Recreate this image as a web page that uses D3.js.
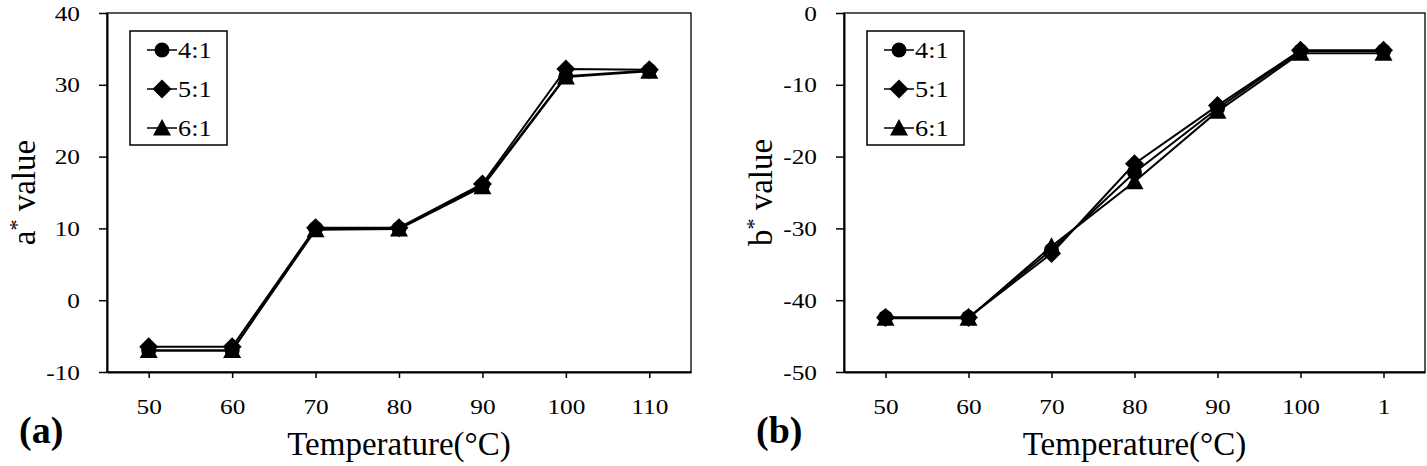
<!DOCTYPE html>
<html>
<head>
<meta charset="utf-8">
<script src="https://cdn.jsdelivr.net/npm/d3@7"></script>
<style>
  html, body { margin: 0; padding: 0; background: #fff; }
  svg { display: block; }
  svg text { font-family: "Liberation Serif", "Times New Roman", Times, serif !important; }
</style>
</head>
<body>
<svg id="chart" width="1427" height="466"></svg>
<script>
// ---- data ----
const temperatures = [50, 60, 70, 80, 90, 100, 110];
const tickLabelsA = ["50", "60", "70", "80", "90", "100", "110"];
const tickLabelsB = ["50", "60", "70", "80", "90", "100", "1"];
const seriesNames = ["4:1", "5:1", "6:1"];
const seriesSymbols = ["circle", "diamond", "triangle"];

const aValues41 = [-7.0, -7.0, 10.0, 10.0, 16.0, 31.2, 32.0];
const aValues51 = [-6.5, -6.5, 10.1, 10.1, 16.2, 32.2, 32.1];
const aValues61 = [-7.0, -7.0, 9.8, 9.9, 15.8, 31.1, 31.9];

const bValues41 = [-42.4, -42.4, -33.0, -22.2, -13.3, -5.3, -5.3];
const bValues51 = [-42.4, -42.4, -33.5, -21.0, -12.9, -5.2, -5.2];
const bValues61 = [-42.5, -42.5, -32.5, -23.5, -13.7, -5.6, -5.6];

const yTicksA = [-10, 0, 10, 20, 30, 40];
const yTicksB = [-50, -40, -30, -20, -10, 0];

// ---- drawing ----
const svg = d3.select("#chart");
const FONT = '"Liberation Serif", "Times New Roman", serif';

// widen glyphs horizontally while keeping the anchor point fixed
function stretchX(sel, sx) {
  sel.each(function () {
    const t = d3.select(this);
    const x0 = +(t.attr("x") || 0);
    t.attr("transform", `translate(${x0 * (1 - sx)},0) scale(${sx},1)`);
  });
}

function symbolPath(type) {
  if (type === "circle") {
    const r = 7.5;
    return `M${-r},0A${r},${r} 0 1,0 ${r},0A${r},${r} 0 1,0 ${-r},0Z`;
  }
  if (type === "diamond") {
    const h = 9.5;
    return `M0,${-h}L${h},0L0,${h}L${-h},0Z`;
  }
  return `M0,-9L9,7.5L-9,7.5Z`;
}

function drawPanel(opts) {
  const { left, right, top, bottom, yDomain, yTicks, tickLabels, series, yLabel, panelLabel } = opts;
  const g = svg.append("g").attr("font-family", FONT);

  const x = d3.scalePoint().domain(temperatures).range([left, right]).padding(0.5);
  const y = d3.scaleLinear().domain(yDomain).range([bottom, top]);

  g.append("rect")
    .attr("x", left).attr("y", top)
    .attr("width", right - left).attr("height", bottom - top)
    .attr("fill", "none").attr("stroke", "#000").attr("stroke-width", 1.3);

  const yAxis = g.append("g")
    .attr("transform", `translate(${left},0)`)
    .call(d3.axisLeft(y).tickValues(yTicks).tickSize(8).tickPadding(19).tickSizeOuter(0)
      .tickFormat(d => String(d)));
  yAxis.attr("font-family", FONT);
  yAxis.select(".domain").attr("stroke-width", 2);
  yAxis.selectAll(".tick line").attr("stroke-width", 1.5);
  yAxis.selectAll("text")
    .attr("font-size", 22).attr("fill", "#000");
  stretchX(yAxis.selectAll("text"), 1.15);

  const xAxis = g.append("g")
    .attr("transform", `translate(0,${bottom})`)
    .call(d3.axisBottom(x).tickSize(6).tickPadding(20).tickSizeOuter(0)
      .tickFormat((d, i) => tickLabels[i]));
  xAxis.attr("font-family", FONT);
  xAxis.select(".domain").attr("stroke-width", 2);
  xAxis.selectAll(".tick line").attr("stroke-width", 1.5);
  xAxis.selectAll("text")
    .attr("font-size", 22).attr("fill", "#000");
  stretchX(xAxis.selectAll("text"), 1.15);

  const line = d3.line().x((d, i) => x(temperatures[i])).y(d => y(d));
  series.forEach((vals) => {
    g.append("path").datum(vals)
      .attr("d", line)
      .attr("fill", "none").attr("stroke", "#000").attr("stroke-width", 2);
  });
  series.forEach((vals, si) => {
    g.append("g").selectAll("path")
      .data(vals).join("path")
      .attr("transform", (d, i) => `translate(${x(temperatures[i])},${y(d)})`)
      .attr("d", symbolPath(seriesSymbols[si]))
      .attr("fill", "#000");
  });

  const lx = left + 23, ly = top + 18;
  const lg = g.append("g");
  lg.append("rect")
    .attr("x", lx).attr("y", ly)
    .attr("width", 97).attr("height", 114)
    .attr("fill", "#fff").attr("stroke", "#000").attr("stroke-width", 1.5);
  seriesNames.forEach((name, i) => {
    const cy = ly + 19 + i * 39;
    lg.append("line")
      .attr("x1", lx + 17).attr("x2", lx + 47)
      .attr("y1", cy).attr("y2", cy)
      .attr("stroke", "#000").attr("stroke-width", 1.5);
    lg.append("path")
      .attr("transform", `translate(${lx + 32},${cy})`)
      .attr("d", symbolPath(seriesSymbols[i]))
      .attr("fill", "#000");
    const t = lg.append("text")
      .attr("x", lx + 48).attr("y", cy + 8)
      .attr("font-size", 23.5).attr("fill", "#000")
      .text(name);
    stretchX(t, 1.12);
  });

  const yl = g.append("text")
    .attr("transform", `translate(${left - 72},${(top + bottom) / 2}) rotate(-90)`)
    .attr("text-anchor", "middle")
    .attr("font-size", 33).attr("fill", "#000");
  yl.append("tspan").text(yLabel);
  yl.append("tspan").attr("font-size", 22).attr("dy", -11).text("*");
  yl.append("tspan").attr("dy", 11).text(" value");

  g.append("text")
    .attr("x", (left + right) / 2).attr("y", 455)
    .attr("text-anchor", "middle")
    .attr("font-size", 33).attr("fill", "#000")
    .text("Temperature(°C)");

  g.append("text")
    .attr("x", left - 88).attr("y", 443)
    .attr("font-size", 38).attr("font-weight", "bold").attr("fill", "#000")
    .text(panelLabel);
}

drawPanel({
  left: 107, right: 691, top: 13, bottom: 372,
  yDomain: [-10, 40], yTicks: yTicksA, tickLabels: tickLabelsA,
  series: [aValues41, aValues51, aValues61],
  yLabel: "a", panelLabel: "(a)"
});

drawPanel({
  left: 844, right: 1425, top: 13, bottom: 372,
  yDomain: [-50, 0], yTicks: yTicksB, tickLabels: tickLabelsB,
  series: [bValues41, bValues51, bValues61],
  yLabel: "b", panelLabel: "(b)"
});
</script>
</body>
</html>
